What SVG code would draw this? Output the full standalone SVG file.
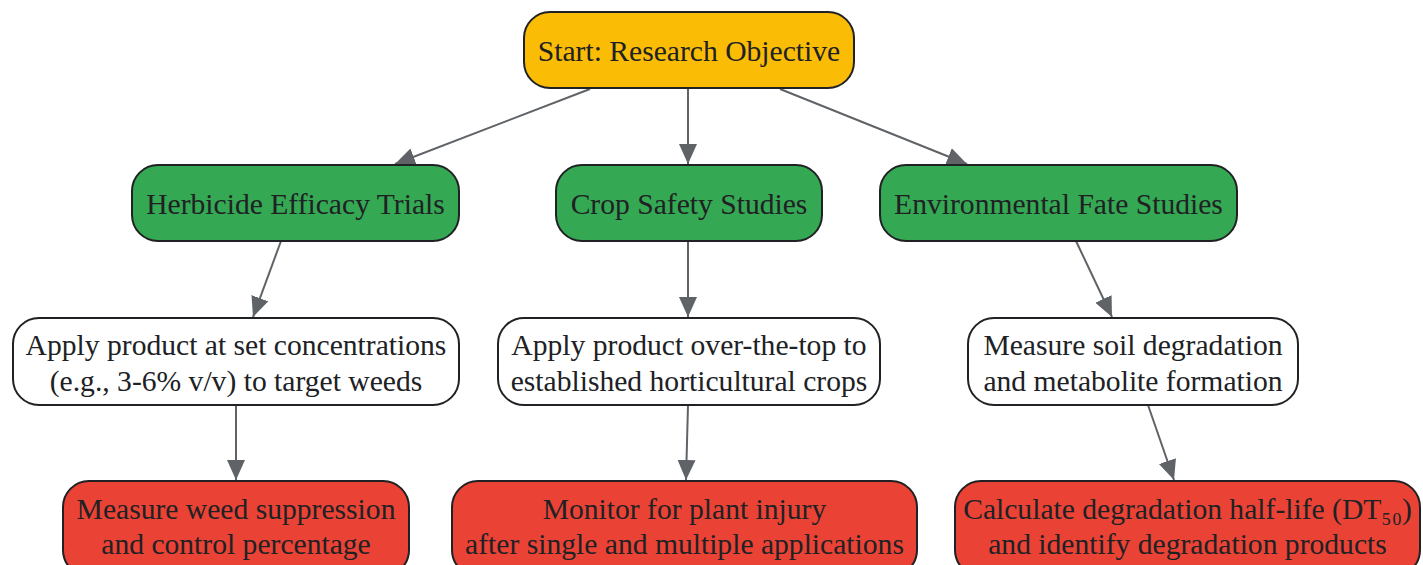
<svg xmlns="http://www.w3.org/2000/svg" width="1423" height="565" viewBox="0 0 1423 565">
<style>
.n{stroke:#202124;stroke-width:2}
.y{fill:#FBBC05}.g{fill:#34A853}.w{fill:#FFFFFF}.r{fill:#EA4335}
text{font-family:"Liberation Serif","Times New Roman",serif;font-size:29.6px;fill:#202124;text-anchor:middle}
.e{stroke:#5F6368;stroke-width:2;fill:none;marker-end:url(#ah)}
</style>
<defs>
<marker id="ah" markerUnits="userSpaceOnUse" markerWidth="20" markerHeight="20" viewBox="0 0 20 18" refX="20" refY="9" orient="auto">
<path d="M0,0 L20,9 L0,18 Z" fill="#5F6368"/>
</marker>
</defs>
<rect width="1423" height="565" fill="#FFFFFF"/>
<g id="connectors">
<line class="e" x1="590" y1="89" x2="395" y2="164"/>
<line class="e" x1="688" y1="89" x2="688" y2="164"/>
<line class="e" x1="780" y1="89" x2="967" y2="164"/>
<line class="e" x1="281" y1="241" x2="253" y2="317"/>
<line class="e" x1="688" y1="241" x2="688" y2="317"/>
<line class="e" x1="1076" y1="241" x2="1112" y2="317"/>
<line class="e" x1="236" y1="405" x2="236" y2="480"/>
<line class="e" x1="688" y1="405" x2="686" y2="480"/>
<line class="e" x1="1148" y1="405" x2="1174" y2="480"/>
</g>
<g id="start">
<rect class="n y" x="524" y="12" width="330" height="76" rx="26"/>
<text x="689" y="61">Start: Research Objective</text>
</g>
<g id="efficacy">
<rect class="n g" x="132" y="165" width="327" height="76" rx="26"/>
<text x="295.5" y="214">Herbicide Efficacy Trials</text>
</g>
<g id="cropsafety">
<rect class="n g" x="556" y="165" width="266" height="76" rx="26"/>
<text x="689" y="214">Crop Safety Studies</text>
</g>
<g id="envfate">
<rect class="n g" x="880" y="165" width="357" height="76" rx="26"/>
<text x="1058.5" y="214">Environmental Fate Studies</text>
</g>
<g id="applyconc">
<rect class="n w" x="13" y="318" width="446" height="87" rx="26"/>
<text x="236" y="355">Apply product at set concentrations</text>
<text x="236" y="391">(e.g., 3-6% v/v) to target weeds</text>
</g>
<g id="applyotp">
<rect class="n w" x="498" y="318" width="382" height="87" rx="26"/>
<text x="689" y="355">Apply product over-the-top to</text>
<text x="689" y="391">established horticultural crops</text>
</g>
<g id="soil">
<rect class="n w" x="968" y="318" width="330" height="87" rx="26"/>
<text x="1133" y="355">Measure soil degradation</text>
<text x="1133" y="391">and metabolite formation</text>
</g>
<g id="weed">
<rect class="n r" x="63" y="481" width="346" height="95" rx="26"/>
<text x="236" y="519">Measure weed suppression</text>
<text x="236" y="554">and control percentage</text>
</g>
<g id="injury">
<rect class="n r" x="452" y="481" width="465" height="95" rx="26"/>
<text x="684.5" y="519">Monitor for plant injury</text>
<text x="684.5" y="554">after single and multiple applications</text>
</g>
<g id="halflife">
<rect class="n r" x="955" y="481" width="465" height="95" rx="26"/>
<text x="1187.5" y="519">Calculate degradation half-life (DT₅₀)</text>
<text x="1187.5" y="554">and identify degradation products</text>
</g>
</svg>
